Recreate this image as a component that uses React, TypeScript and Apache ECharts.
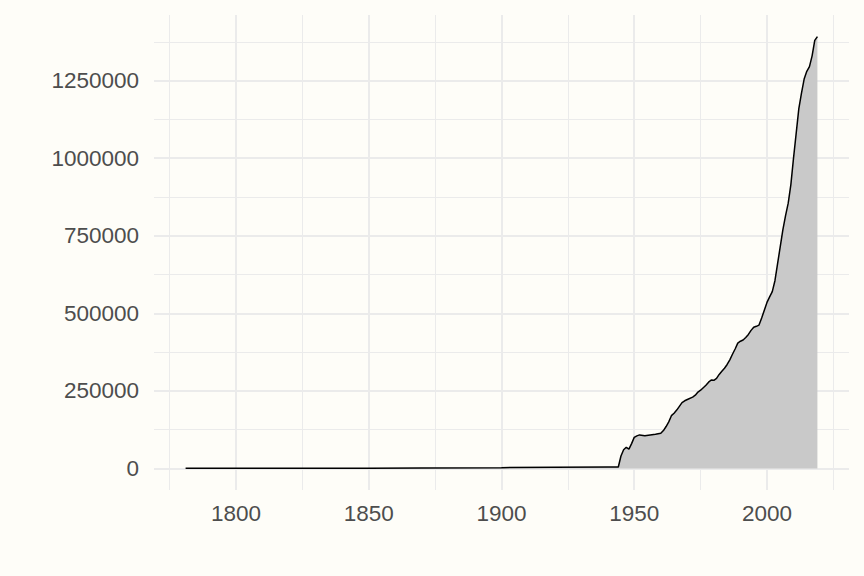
import React, { useEffect, useRef } from "react";
import * as echarts from "echarts";

const years = [
  1781, 1800, 1850, 1870, 1900, 1920, 1940, 1944, 1945, 1946, 1947, 1948, 1949, 1950,
  1951, 1952, 1954, 1956, 1958, 1960, 1961, 1962, 1963, 1964, 1965, 1966, 1967, 1968,
  1969, 1970, 1972, 1973, 1974, 1975, 1976, 1977, 1978, 1979, 1980, 1981, 1982, 1983,
  1984, 1985, 1986, 1987, 1988, 1989, 1990, 1991, 1992, 1993, 1994, 1995, 1996, 1997,
  1998, 1999, 2000, 2001, 2002, 2003, 2004, 2005, 2006, 2007, 2008, 2009, 2010, 2011,
  2012, 2013, 2014, 2015, 2016, 2017, 2018, 2019,
];
const values = [
  300, 400, 900, 1500, 2500, 3500, 4500, 4500, 40000, 60000, 68000, 62000, 80000, 100000,
  105000, 108000, 105000, 108000, 110000, 113000, 122000, 135000, 150000, 170000, 178000, 188000, 200000, 212000,
  218000, 222000, 230000, 236000, 246000, 252000, 260000, 268000, 278000, 285000, 284000, 290000, 303000, 313000,
  323000, 335000, 350000, 368000, 385000, 404000, 410000, 414000, 422000, 432000, 445000, 455000, 458000, 462000,
  485000, 510000, 535000, 553000, 570000, 605000, 660000, 715000, 770000, 815000, 855000, 915000, 1000000, 1080000,
  1160000, 1210000, 1255000, 1280000, 1295000, 1330000, 1380000, 1392000,
];
const xTicks = [1800, 1850, 1900, 1950, 2000];
const xMinor = [1775, 1825, 1875, 1925, 1975, 2025];
const yTicks = [0, 250000, 500000, 750000, 1000000, 1250000];
const yMinor = [125000, 375000, 625000, 875000, 1125000, 1375000];

export default function App() {
  const ref = useRef<HTMLDivElement>(null);
  useEffect(() => {
    if (!ref.current) return;
    const chart = echarts.init(ref.current, undefined, { renderer: "svg" });
    const xMinV = Math.min(...years);
    const xMaxV = Math.max(...years);
    const xPad = (xMaxV - xMinV) * 0.05;
    const yMaxV = Math.max(...values);
    const yPad = yMaxV * 0.05;
    const gridColor = "#EBEBEB";
    const textStyle = { color: "#4D4D4D", fontSize: 22.5, fontFamily: "Liberation Sans, Arial, sans-serif" };
    const lineMark = (axis: "xAxis" | "yAxis", vals: number[], width: number) =>
      vals.map((v) => ({ [axis]: v, lineStyle: { color: gridColor, width, type: "solid" } }));
    chart.setOption({
      animation: false,
      backgroundColor: "#FEFDF8",
      grid: { left: 154, right: 15, top: 15, bottom: 86 },
      xAxis: {
        type: "value",
        min: xMinV - xPad,
        max: xMaxV + xPad,
        axisLine: { show: false },
        axisTick: { show: false },
        splitLine: { show: false },
        axisLabel: { ...textStyle, margin: 12, customValues: xTicks, formatter: (v: number) => String(v) },
      },
      yAxis: {
        type: "value",
        min: -yPad,
        max: yMaxV + yPad,
        axisLine: { show: false },
        axisTick: { show: false },
        splitLine: { show: false },
        axisLabel: { ...textStyle, margin: 15, customValues: yTicks, formatter: (v: number) => String(v) },
      },
      series: [
        {
          type: "line",
          data: [],
          z: 1,
          silent: true,
          markLine: {
            silent: true,
            z: 1,
            symbol: ["none", "none"],
            label: { show: false },
            emphasis: { disabled: true },
            data: [
              ...lineMark("xAxis", xMinor, 1),
              ...lineMark("yAxis", yMinor, 1),
              ...lineMark("xAxis", xTicks, 2),
              ...lineMark("yAxis", yTicks, 2),
            ],
          },
        },
        {
          type: "line",
          z: 10,
          data: years.map((y, i) => [y, values[i]]),
          showSymbol: false,
          symbol: "none",
          lineStyle: { color: "#000000", width: 1.5 },
          areaStyle: { color: "#C9C9C9", opacity: 1, origin: 0 },
        },
      ],
    });
    return () => chart.dispose();
  }, []);
  return (
    <div
      ref={ref}
      style={{ position: "absolute", left: 0, top: 0, width: 864, height: 576 }}
    />
  );
}
